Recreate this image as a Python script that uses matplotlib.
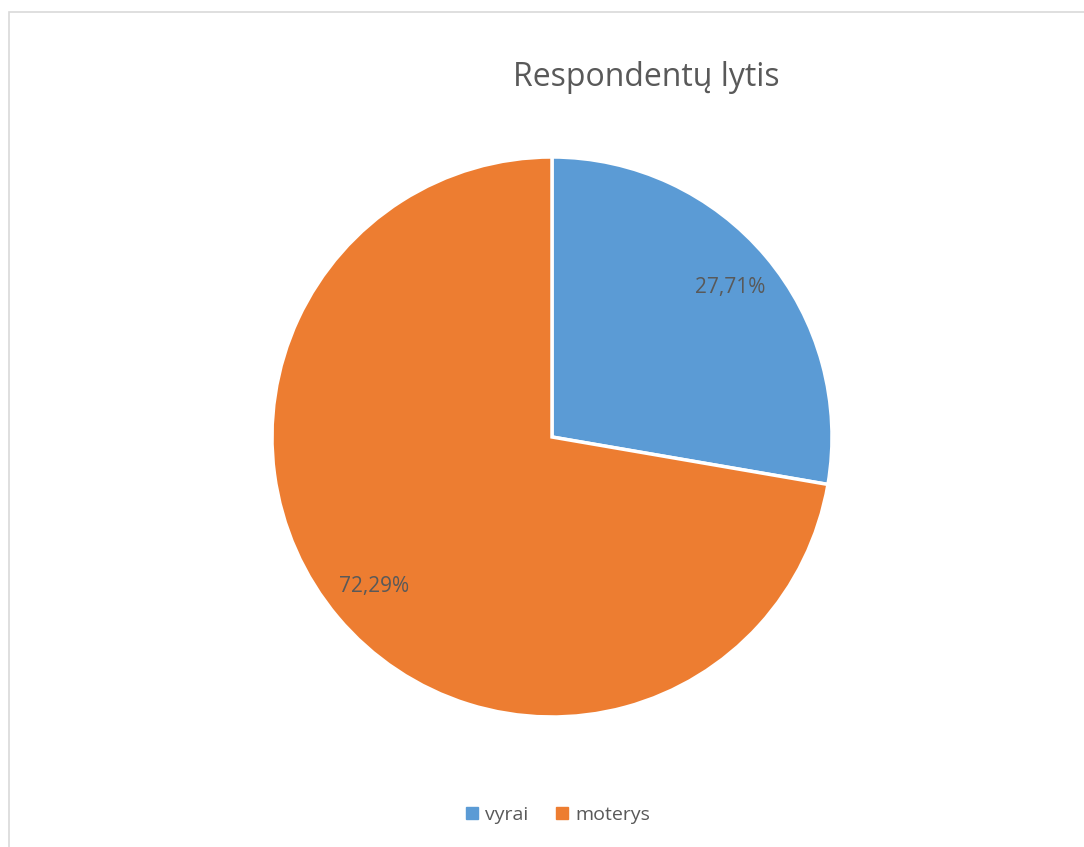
import matplotlib
matplotlib.use('Agg')
import matplotlib.pyplot as plt
from matplotlib.lines import Line2D
from matplotlib.patches import Rectangle

plt.rcParams['font.family'] = ['Open Sans', 'DejaVu Sans']

labels = ['vyrai', 'moterys']
shares = [27.71, 72.29]
colors = ['#5B9BD5', '#ED7D31']
text_color = '#595959'

W, H = 1084, 847
fig = plt.figure(figsize=(W / 100, H / 100), dpi=100)

# light chart frame, runs off the right and bottom edges
fig.patches.append(Rectangle((8.5 / W, -1), 2, 2 - 12.5 / H, transform=fig.transFigure,
                             fill=False, edgecolor='#d9d9d9', linewidth=1.2))

cx, cy, r = 552, 437, 280
ax = fig.add_axes([(cx - r) / W, (H - cy - r) / H, 2 * r / W, 2 * r / H])
wedges, _, autotexts = ax.pie(shares, colors=colors, startangle=90, counterclock=False,
                              autopct=lambda p: f'{p:.2f}%'.replace('.', ','),
                              pctdistance=0.83,
                              wedgeprops=dict(edgecolor='white', linewidth=2.5),
                              textprops=dict(color=text_color, fontsize=15))
ax.set_xlim(-1.0, 1.0)
ax.set_ylim(-1.0, 1.0)
ax.set_aspect('equal')
ax.axis('off')

fig.text(646 / W, 1 - 77 / H, 'Respondentų lytis', ha='center', va='center',
         fontsize=23, color=text_color)

handles = [Line2D([], [], marker='s', linestyle='', markersize=8, color=c) for c in colors]
fig.legend(handles, labels, loc='center', bbox_to_anchor=(556 / W, 1 - 815 / H), ncol=2,
           frameon=False, fontsize=14, labelcolor=text_color, handletextpad=0.2,
           columnspacing=1.2, handlelength=1.0)

fig.savefig('out.png', dpi=100)
